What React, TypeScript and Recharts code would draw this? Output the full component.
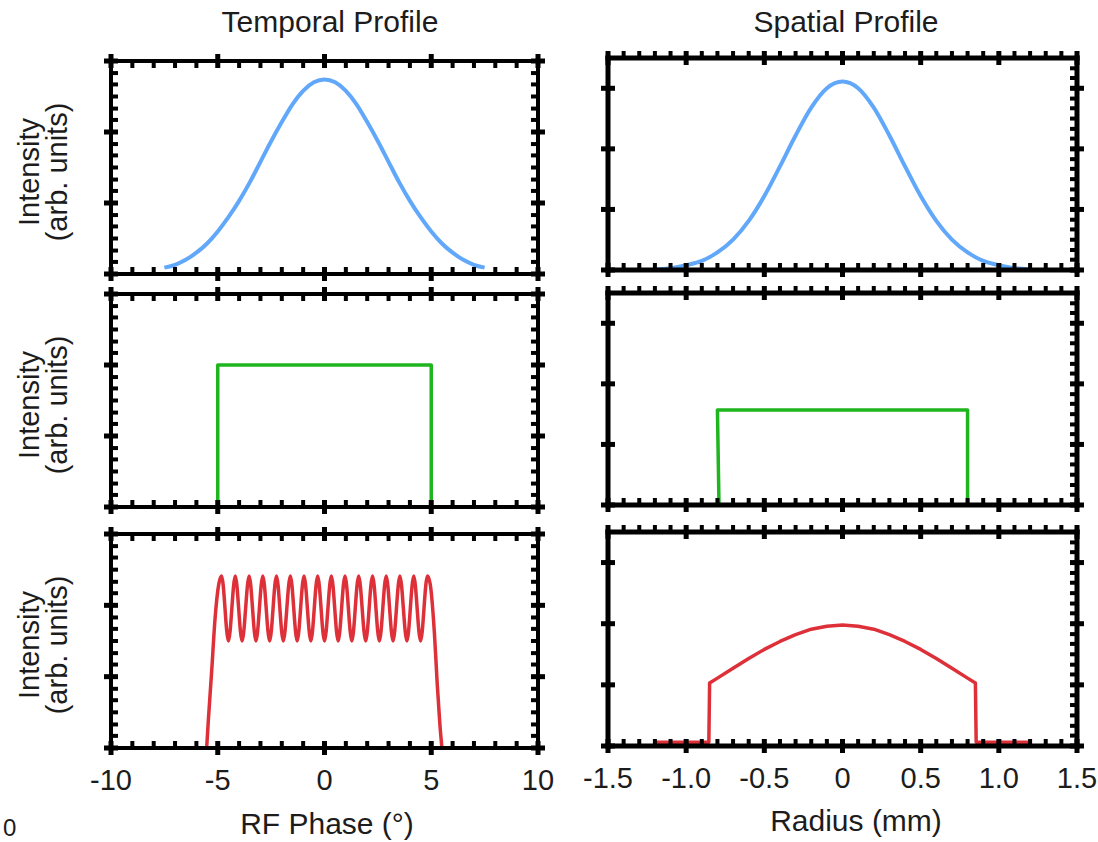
import React from 'react';
import { LineChart, Line, XAxis, YAxis } from 'recharts';

const FONT = "'Liberation Sans', Arial, Helvetica, sans-serif";
const INK = '#1c1c1c';

// ---------- ticks / labels ----------
const temporalXMajor = [-10, -5, 0, 5, 10];
const temporalXMinor = [-9, -8, -7, -6, -4, -3, -2, -1, 1, 2, 3, 4, 6, 7, 8, 9];
const temporalXLabels = ['-10', '-5', '0', '5', '10'];
const spatialXMajor = [-1.5, -1, -0.5, 0, 0.5, 1, 1.5];
const spatialXMinor = [-1.4, -1.3, -1.2, -1.1, -0.9, -0.8, -0.7, -0.6, -0.4, -0.3, -0.2, -0.1, 0.1, 0.2, 0.3, 0.4, 0.6, 0.7, 0.8, 0.9, 1.1, 1.2, 1.3, 1.4];
const spatialXLabels = ['-1.5', '-1.0', '-0.5', '0', '0.5', '1.0', '1.5'];
const temporalYMajor = [0, 1, 2, 3];
const temporalYMinor = [0.17, 0.33, 0.5, 0.67, 0.83, 1.17, 1.33, 1.5, 1.67, 1.83, 2.17, 2.33, 2.5, 2.67, 2.83];
const spatialYMajor = [0, 1, 2, 3];
const spatialYMinor = [0.17, 0.33, 0.5, 0.67, 0.83, 1.17, 1.33, 1.5, 1.67, 1.83, 2.17, 2.33, 2.5, 2.67, 2.83, 3.17, 3.33];

// ---------- series ----------
const temporalGaussX = [-7.5, -7, -6.5, -6, -5.5, -5, -4.5, -4, -3.5, -3, -2.5, -2, -1.5, -1, -0.5, 0, 0.5, 1, 1.5, 2, 2.5, 3, 3.5, 4, 4.5, 5, 5.5, 6, 6.5, 7, 7.5];
const temporalGaussY = [0.09, 0.13, 0.2, 0.3, 0.43, 0.6, 0.8, 1.03, 1.29, 1.58, 1.87, 2.14, 2.39, 2.58, 2.7, 2.74, 2.7, 2.58, 2.39, 2.14, 1.87, 1.58, 1.29, 1.03, 0.8, 0.6, 0.43, 0.3, 0.2, 0.13, 0.09];

const spatialGaussX = [-1.2, -1.1, -1.0, -0.9, -0.8, -0.7, -0.6, -0.5, -0.4, -0.3, -0.2, -0.1, 0, 0.1, 0.2, 0.3, 0.4, 0.5, 0.6, 0.7, 0.8, 0.9, 1.0, 1.1, 1.2];
const spatialGaussY = [0.01, 0.03, 0.08, 0.15, 0.29, 0.5, 0.81, 1.22, 1.71, 2.22, 2.68, 3.0, 3.11, 3.0, 2.68, 2.22, 1.71, 1.22, 0.81, 0.5, 0.29, 0.15, 0.08, 0.03, 0.01];

const temporalFlatX = [-5, -5, 5, 5];
const temporalFlatY = [0, 2, 2, 0];

const spatialFlatX = [-0.79, -0.8, 0.8, 0.8];
const spatialFlatY = [0, 1.57, 1.57, 0];

const temporalRippleX = [-5.52, -5.44, -5.28, -5.13, -4.95, -4.82, -4.5, -4.18, -3.86, -3.53, -3.21, -2.89, -2.57, -2.25, -1.93, -1.6, -1.28, -0.96, -0.64, -0.32, 0, 0.32, 0.64, 0.96, 1.28, 1.6, 1.93, 2.25, 2.57, 2.89, 3.21, 3.53, 3.86, 4.18, 4.5, 4.82, 4.95, 5.15, 5.28, 5.4, 5.5];
const temporalRippleY = [0, 0.39, 1.1, 1.8, 2.3, 2.41, 1.5, 2.41, 1.5, 2.41, 1.5, 2.41, 1.5, 2.41, 1.5, 2.41, 1.5, 2.41, 1.5, 2.41, 1.5, 2.41, 1.5, 2.41, 1.5, 2.41, 1.5, 2.41, 1.5, 2.41, 1.5, 2.41, 1.5, 2.41, 1.5, 2.41, 2.3, 1.6, 0.9, 0.35, 0];

const spatialShapedX = [-1.2, -0.855, -0.85, -0.8, -0.7, -0.6, -0.5, -0.4, -0.3, -0.2, -0.1, 0, 0.1, 0.2, 0.3, 0.4, 0.5, 0.6, 0.7, 0.8, 0.85, 0.855, 1.2];
const spatialShapedY = [0.06, 0.06, 1.03, 1.11, 1.27, 1.43, 1.58, 1.71, 1.82, 1.91, 1.96, 1.98, 1.96, 1.91, 1.82, 1.71, 1.58, 1.43, 1.27, 1.11, 1.03, 0.06, 0.06];

const zip = (xs: number[], ys: number[]) => xs.map((x, i) => ({ x, y: ys[i] }));

const BLUE = '#62a8fa';
const GREEN = '#1fb51f';
const RED = '#de3039';

type Side = 'bottom' | 'top' | 'left' | 'right';
type MinorDir = 'in' | 'out' | 'none';

function makeTick(side: Side, majors: number[], minorDir: MinorDir, labels?: string[]) {
  const out: [number, number] =
    side === 'bottom' ? [0, 1] : side === 'top' ? [0, -1] : side === 'left' ? [-1, 0] : [1, 0];
  return (props: any) => {
    const { x, y, payload } = props;
    const v = payload.value as number;
    const mi = majors.findIndex((m) => Math.abs(m - v) < 1e-9);
    const isMajor = mi >= 0;
    let a = 0;
    let b = 0;
    let w = 4;
    if (isMajor) {
      a = -7; b = 7; w = 5;
    } else if (minorDir === 'in') {
      a = -7; b = 0; w = 4;
    } else if (minorDir === 'out') {
      a = 0; b = 7; w = 4;
    }
    return (
      <g>
        {a !== b && (
          <line
            x1={x + out[0] * a}
            y1={y + out[1] * a}
            x2={x + out[0] * b}
            y2={y + out[1] * b}
            stroke="#000"
            strokeWidth={w}
          />
        )}
        {labels && isMajor && (
          <text
            x={x}
            y={y + 21}
            dy="0.71em"
            textAnchor="middle"
            fontSize={29}
            fontFamily={FONT}
            fill={INK}
          >
            {labels[mi]}
          </text>
        )}
      </g>
    );
  };
}

type PanelProps = {
  left: number; top: number; w: number; h: number;
  data: { x: number; y: number }[];
  xDomain: [number, number]; xMajor: number[]; xMinor: number[]; xLabels: string[];
  yDomain: [number, number]; yMajor: number[]; yMinor: number[];
  color: string; lw: number; curve: 'monotone' | 'linear';
  labels: boolean; kind: 'temporal' | 'spatial';
};

const PAD_X = 30;
const PAD_Y = 20;

function Panel(p: PanelProps) {
  const bottomSpace = p.labels ? 60 : 20;
  const W = p.w + 2 * PAD_X;
  const H = PAD_Y + p.h + bottomSpace;
  const frame = p.kind === 'temporal' ? 4 : 5;
  const axisLine = { stroke: '#000', strokeWidth: frame, strokeLinecap: 'square' as const };
  const xAll = [...p.xMinor, ...p.xMajor];
  const yAll = [...p.yMinor, ...p.yMajor];
  const temporal = p.kind === 'temporal';
  const common = { type: 'number' as const, interval: 0 as const, stroke: '#000', tickSize: 0, tickMargin: 0, tickLine: false, allowDataOverflow: true };
  return (
    <div style={{ position: 'absolute', left: p.left - PAD_X, top: p.top - PAD_Y }}>
      <LineChart
        width={W}
        height={H}
        data={p.data}
        margin={{ top: PAD_Y - 1, right: PAD_X - 1, bottom: bottomSpace - 1, left: PAD_X - 1 }}
      >
        {/* invisible twin so the top and right axes share the same data-driven scale */}
        <Line
          xAxisId="xt"
          yAxisId="yr"
          dataKey="y"
          type="linear"
          stroke="none"
          strokeWidth={0}
          dot={false}
          activeDot={false}
          isAnimationActive={false}
          legendType="none"
        />
        <Line
          xAxisId="xb"
          yAxisId="yl"
          dataKey="y"
          type={p.curve}
          stroke={p.color}
          strokeWidth={p.lw}
          dot={false}
          activeDot={false}
          isAnimationActive={false}
          strokeLinejoin="round"
        />
        <XAxis
          {...common}
          xAxisId="xb"
          dataKey="x"
          orientation="bottom"
          domain={p.xDomain}
          ticks={xAll}
          height={1}
          tick={makeTick('bottom', p.xMajor, 'in', p.labels ? p.xLabels : undefined)}
          axisLine={axisLine}
        />
        <XAxis
          {...common}
          xAxisId="xt"
          dataKey="x"
          orientation="top"
          domain={p.xDomain}
          ticks={xAll}
          height={1}
          tick={makeTick('top', p.xMajor, temporal ? 'in' : 'out')}
          axisLine={axisLine}
        />
        <YAxis
          {...common}
          yAxisId="yl"
          orientation="left"
          domain={p.yDomain}
          ticks={yAll}
          width={1}
          tick={makeTick('left', p.yMajor, temporal ? 'in' : 'none')}
          axisLine={axisLine}
        />
        <YAxis
          {...common}
          yAxisId="yr"
          orientation="right"
          domain={p.yDomain}
          ticks={yAll}
          width={1}
          tick={makeTick('right', p.yMajor, 'in')}
          axisLine={axisLine}
        />
      </LineChart>
    </div>
  );
}

const LEFT = { left: 111, w: 427 };
const RIGHT = { left: 608, w: 469 };

const rowCenters = [172, 405, 645];

export default function App() {
  const tBase = {
    ...LEFT,
    xDomain: [-10, 10] as [number, number],
    xMajor: temporalXMajor, xMinor: temporalXMinor, xLabels: temporalXLabels,
    yDomain: [0, 3] as [number, number], yMajor: temporalYMajor, yMinor: temporalYMinor,
    kind: 'temporal' as const,
  };
  const sBase = {
    ...RIGHT,
    xDomain: [-1.5, 1.5] as [number, number],
    xMajor: spatialXMajor, xMinor: spatialXMinor, xLabels: spatialXLabels,
    yDomain: [0, 3.5] as [number, number], yMajor: spatialYMajor, yMinor: spatialYMinor,
    kind: 'spatial' as const,
  };
  return (
    <div style={{ position: 'absolute', left: 0, top: 0, width: 1098, height: 842, background: '#fff', overflow: 'hidden' }}>
      <Panel {...tBase} top={61} h={213} data={zip(temporalGaussX, temporalGaussY)} color={BLUE} lw={4} curve="monotone" labels={false} />
      <Panel {...tBase} top={294} h={213} data={zip(temporalFlatX, temporalFlatY)} color={GREEN} lw={3.5} curve="linear" labels={false} />
      <Panel {...tBase} top={534} h={214} data={zip(temporalRippleX, temporalRippleY)} color={RED} lw={3.5} curve="monotone" labels={true} />
      <Panel {...sBase} top={58} h={212} data={zip(spatialGaussX, spatialGaussY)} color={BLUE} lw={4} curve="monotone" labels={false} />
      <Panel {...sBase} top={293} h={212} data={zip(spatialFlatX, spatialFlatY)} color={GREEN} lw={3.5} curve="linear" labels={false} />
      <Panel {...sBase} top={532} h={214} data={zip(spatialShapedX, spatialShapedY)} color={RED} lw={3.5} curve="linear" labels={true} />
      <svg width={1098} height={842} style={{ position: 'absolute', left: 0, top: 0, pointerEvents: 'none' }}>
        <g fontFamily={FONT} fill={INK}>
          <text x={330} y={32} fontSize={30} textAnchor="middle">Temporal Profile</text>
          <text x={846} y={32} fontSize={30} textAnchor="middle">Spatial Profile</text>
          <text x={327} y={834} fontSize={30} textAnchor="middle">RF Phase (°)</text>
          <text x={856} y={831} fontSize={30} textAnchor="middle">Radius (mm)</text>
          {rowCenters.map((c) => (
            <g key={c}>
              <text transform={`translate(39, ${c}) rotate(-90)`} fontSize={29} textAnchor="middle">Intensity</text>
              <text transform={`translate(67, ${c}) rotate(-90)`} fontSize={29} textAnchor="middle">(arb. units)</text>
            </g>
          ))}
          <text x={3} y={836} fontSize={24}>0</text>
        </g>
      </svg>
    </div>
  );
}
